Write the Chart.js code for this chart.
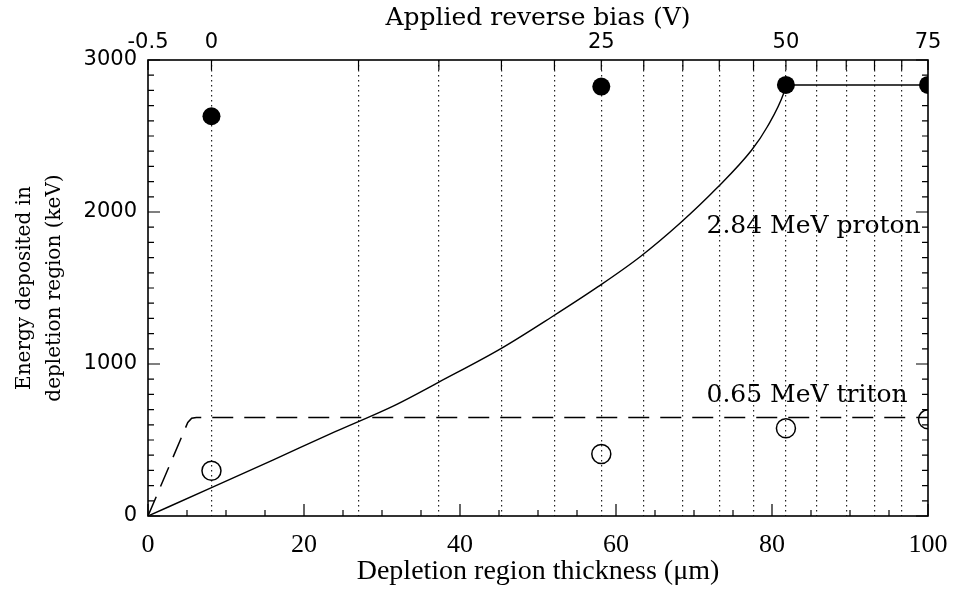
<!DOCTYPE html>
<html>
<head>
<meta charset="utf-8">
<script src="https://cdn.jsdelivr.net/npm/chart.js@4.4.1/dist/chart.umd.min.js"></script>
<style>
  html, body { margin: 0; padding: 0; background: #fff; }
  canvas { display: block; }
</style>
</head>
<body>
<canvas id="chart" width="953" height="590"></canvas>
<script>
// top axis: applied reverse bias (V), mapped onto depletion depth
const biasTicks = [-0.5, 0, 5, 10, 15, 20, 25, 30, 35, 40, 45, 50, 55, 60, 65, 70, 75];
const biasLabels = [-0.5, 0, 25, 50, 75];
const builtIn = 0.5;      // V, built-in potential
const fullBias = 75;      // V at which depletion = 100 um

// depletion depth grows as sqrt(V + Vbi)
function depth(v) {
  return 100 * Math.sqrt((v + builtIn) / (fullBias + builtIn));
}

// measured points, at bias settings
const measBias = [0, 25, 50, 75];
const protonMeas = [2630, 2825, 2836, 2836];
const tritonMeas = [298, 408, 577, 636];

// calculated 2.84 MeV proton curve (um, keV)
const protonDepth = [0, 8, 16, 24, 31.7, 37.4, 45.3, 51.8, 57.7, 63.1, 68.2, 72.9, 77.4, 79.4, 81.5, 81.8];
const protonEnergy = [0, 183, 368, 555, 730, 884, 1103, 1311, 1509, 1706, 1926, 2156, 2408, 2561, 2781, 2836];
const protonPlateauDepth = [81.8, 100];
const protonPlateauEnergy = [2836, 2836];

// calculated 0.65 MeV triton curve
const tritonDepth = [0, 5.1, 5.6, 6.2, 100];
const tritonEnergy = [0, 615, 643, 648, 648];

const toXY = (xs, ys) => xs.map((x, i) => ({ x: x, y: ys[i] }));

const sansTick = { family: 'DejaVu Sans', size: 21, lineHeight: 1 };

// keep the plot frame where the original has it
function fixHeight(h) {
  return s => { s.height = h; s.paddingLeft = 0; s.paddingRight = 0; };
}

const innerTicks = {
  id: 'innerTicks',
  afterDatasetsDraw(chart) {
    const { ctx, chartArea: a, scales } = chart;
    const x = scales.x, y = scales.y, top = scales.xTop;
    ctx.save();
    ctx.strokeStyle = '#000';
    ctx.lineWidth = 1.2;
    ctx.beginPath();
    for (let v = 0; v <= 3000; v += 100) {
      const py = y.getPixelForValue(v);
      const len = v % 1000 === 0 ? 12 : 6;
      ctx.moveTo(a.left, py); ctx.lineTo(a.left + len, py);
      ctx.moveTo(a.right, py); ctx.lineTo(a.right - len, py);
    }
    for (let v = 0; v <= 100; v += 5) {
      const px = x.getPixelForValue(v);
      const len = v % 20 === 0 ? 12 : 6;
      ctx.moveTo(px, a.bottom); ctx.lineTo(px, a.bottom - len);
    }
    top.ticks.forEach(t => {
      const px = top.getPixelForValue(t.value);
      ctx.moveTo(px, a.top); ctx.lineTo(px, a.top + 10);
    });
    ctx.stroke();

    ctx.lineWidth = 1.6;
    ctx.strokeRect(a.left, a.top, a.right - a.left, a.bottom - a.top);

    // curve labels
    ctx.fillStyle = '#000';
    ctx.font = '25px "DejaVu Serif"';
    ctx.textAlign = 'left';
    ctx.textBaseline = 'middle';
    ctx.fillText('2.84 MeV proton', x.getPixelForValue(71.6), y.getPixelForValue(1903));
    ctx.fillText('0.65 MeV triton', x.getPixelForValue(71.6), y.getPixelForValue(796));
    ctx.restore();
  }
};

new Chart(document.getElementById('chart'), {
  type: 'scatter',
  data: {
    datasets: [
      {
        label: '2.84 MeV proton (calc)',
        data: toXY(protonDepth, protonEnergy),
        showLine: true,
        borderColor: '#000',
        borderWidth: 1.4,
        pointRadius: 0,
        cubicInterpolationMode: 'monotone',
        clip: 0
      },
      {
        label: 'proton plateau',
        data: toXY(protonPlateauDepth, protonPlateauEnergy),
        showLine: true,
        borderColor: '#000',
        borderWidth: 1.4,
        pointRadius: 0,
        clip: 0
      },
      {
        label: '0.65 MeV triton (calc)',
        data: toXY(tritonDepth, tritonEnergy),
        showLine: true,
        borderColor: '#000',
        borderWidth: 1.5,
        borderDash: [21, 11],
        pointRadius: 0,
        clip: 0
      },
      {
        label: 'proton measured',
        data: toXY(measBias.map(depth), protonMeas),
        backgroundColor: '#000',
        borderColor: '#000',
        pointRadius: 9,
        borderWidth: 0,
        clip: 0
      },
      {
        label: 'triton measured',
        data: toXY(measBias.map(depth), tritonMeas),
        backgroundColor: 'rgba(0,0,0,0)',
        borderColor: '#000',
        pointRadius: 9.5,
        borderWidth: 1.5,
        clip: 0
      }
    ]
  },
  options: {
    responsive: false,
    animation: false,
    layout: { padding: { left: 0, right: 25, top: 0, bottom: 0 } },
    plugins: { legend: { display: false }, tooltip: { enabled: false } },
    elements: { point: { hoverRadius: 9 } },
    scales: {
      x: {
        type: 'linear',
        position: 'bottom',
        min: 0,
        max: 100,
        afterFit: fixHeight(74),
        grid: { display: false, drawTicks: false },
        border: { display: false },
        ticks: {
          stepSize: 20,
          maxRotation: 0,
          padding: 16,
          color: '#000',
          font: { family: 'Liberation Serif', size: 26, lineHeight: 1 }
        },
        title: {
          display: true,
          text: 'Depletion region thickness (\u03bcm)',
          color: '#000',
          padding: { top: 0, bottom: 4 },
          font: { family: 'Liberation Serif', size: 28, lineHeight: 1 }
        }
      },
      xTop: {
        type: 'linear',
        position: 'top',
        min: 0,
        max: 100,
        afterFit: fixHeight(60),
        afterBuildTicks: s => { s.ticks = biasTicks.map(v => ({ value: depth(v) })); },
        grid: {
          drawTicks: false,
          lineWidth: 1.2,
          color: c => (c.index === 0 || c.index === biasTicks.length - 1) ? 'rgba(0,0,0,0)' : '#222'
        },
        border: { display: false, dash: [1.5, 3.5] },
        ticks: {
          autoSkip: false,
          maxRotation: 0,
          padding: 7,
          color: '#000',
          font: sansTick,
          callback: (val, i) => biasLabels.includes(biasTicks[i]) ? String(biasTicks[i]) : ''
        },
        title: {
          display: true,
          text: 'Applied reverse bias (V)',
          color: '#000',
          padding: { top: 6, bottom: 0 },
          font: { family: 'DejaVu Serif', size: 25, lineHeight: 1 }
        }
      },
      y: {
        type: 'linear',
        position: 'left',
        min: 0,
        max: 3000,
        afterFit: s => { s.width = 148; },
        grid: { display: false, drawTicks: false },
        border: { display: false },
        ticks: {
          stepSize: 1000,
          padding: 11,
          color: '#000',
          font: sansTick,
          callback: v => String(v)
        },
        title: {
          display: true,
          text: ['Energy deposited in', 'depletion region (keV)'],
          color: '#000',
          padding: { top: 10, bottom: 0 },
          font: { family: 'DejaVu Serif', size: 20, lineHeight: 1.5 }
        }
      }
    }
  },
  plugins: [innerTicks]
});
</script>
</body>
</html>
